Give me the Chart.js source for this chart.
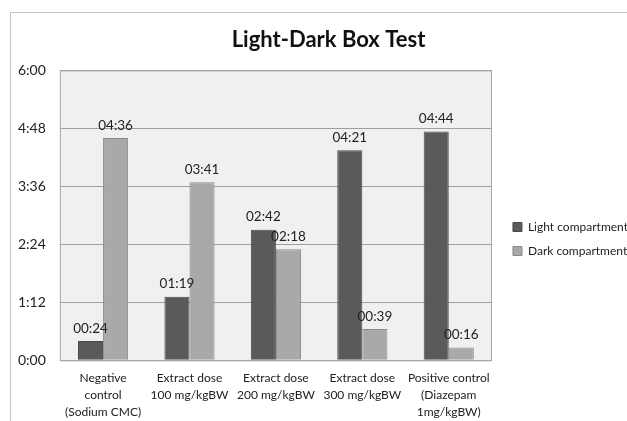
<!DOCTYPE html>
<html>
<head>
<meta charset="utf-8">
<script src="https://cdn.jsdelivr.net/npm/chart.js@4/dist/chart.umd.min.js"></script>
<style>
  html, body { margin: 0; padding: 0; background: #fff; overflow: hidden; }
  #frame { position: absolute; left: 10px; top: 12px; width: 700px; height: 500px; border: 1px solid #c6c6c6; }
  #wrap { position: absolute; left: 0; top: 0; width: 660px; height: 421px; }
</style>
</head>
<body>
<div id="frame"></div>
<div id="wrap"><canvas id="boxChart"></canvas></div>
<script>
const groups = [
  ['Negative', 'control', '(Sodium CMC)'],
  ['Extract dose', '100 mg/kgBW'],
  ['Extract dose', '200 mg/kgBW'],
  ['Extract dose', '300 mg/kgBW'],
  ['Positive control', '(Diazepam', '1mg/kgBW)']
]
// time in seconds
const lightSecs = [24, 79, 162, 261, 284]
const darkSecs = [276, 221, 138, 39, 16]

const pad2 = n => (n < 10 ? '0' : '') + n
const fontName = 'Lato, "Open Sans", sans-serif'

// grey plot area with a thin border
const plotBg = {
  id: 'plotBg',
  beforeDraw(chart) {
    const { ctx, chartArea: a } = chart
    ctx.save()
    ctx.fillStyle = '#f0f0f0'
    ctx.fillRect(a.left, a.top, a.right - a.left, a.bottom - a.top)
    ctx.restore()
  },
  afterDraw(chart) {
    const { ctx, chartArea: a } = chart
    ctx.save()
    ctx.strokeStyle = '#a8a8a8'
    ctx.lineWidth = 1
    ctx.strokeRect(a.left + 0.5, a.top + 0.5, a.right - a.left - 1, a.bottom - a.top)
    ctx.restore()
  }
}

// nudge legend and title like in the original
const boxNudge = {
  id: 'boxNudge',
  afterLayout(chart) {
    const lg = chart.legend
    lg.left += 9; lg.right += 9
    lg.top += 17; lg.bottom += 17
    const t = chart.titleBlock
    t.left += 12; t.right += 12
  }
}

// mm:ss label above each bar
const barLabels = {
  id: 'barLabels',
  afterDatasetsDraw(chart) {
    const ctx = chart.ctx
    ctx.save()
    ctx.font = '13.5px ' + fontName
    ctx.fillStyle = '#222'
    ctx.textAlign = 'center'
    ctx.textBaseline = 'bottom'
    chart.data.datasets.forEach((ds, i) => {
      chart.getDatasetMeta(i).data.forEach((bar, j) => {
        const v = ds.data[j]
        ctx.fillText(pad2(Math.floor(v / 60)) + ':' + pad2(v % 60), bar.x, bar.y - 6)
      })
    })
    ctx.restore()
  }
}

new Chart('boxChart', {
  type: 'bar',
  data: {
    labels: groups,
    datasets: [
      {
        label: 'Light compartment',
        data: lightSecs,
        backgroundColor: '#5a5a5a',
        borderColor: '#4a4a4a',
        borderWidth: 1,
        categoryPercentage: 0.58,
        barPercentage: 1
      },
      {
        label: 'Dark compartment',
        data: darkSecs,
        backgroundColor: '#a9a9a9',
        borderColor: '#8a8a8a',
        borderWidth: 1,
        categoryPercentage: 0.58,
        barPercentage: 1
      }
    ]
  },
  options: {
    responsive: true,
    maintainAspectRatio: false,
    animation: false,
    layout: { padding: { left: 4, top: 14, right: 31, bottom: -9 } },
    plugins: {
      title: {
        display: true,
        text: 'Light-Dark Box Test',
        color: '#111',
        font: { family: fontName, size: 22, weight: 'bold' },
        padding: { top: 13, bottom: 17 }
      },
      legend: {
        position: 'right',
        labels: {
          color: '#222',
          font: { family: fontName, size: 12 },
          boxWidth: 9,
          boxHeight: 9,
          padding: 12
        }
      },
      tooltip: { enabled: false }
    },
    scales: {
      x: {
        grid: { display: false, drawTicks: false },
        border: { display: false },
        ticks: {
          color: '#222',
          font: { family: fontName, size: 12, lineHeight: 1.38 },
          maxRotation: 0,
          autoSkip: false,
          padding: 10
        }
      },
      y: {
        min: 0,
        max: 360,
        border: { display: false },
        grid: { color: '#a0a0a0', drawTicks: false },
        ticks: {
          stepSize: 72,
          color: '#222',
          font: { family: fontName, size: 14 },
          padding: 14,
          callback: v => Math.floor(v / 60) + ':' + pad2(v % 60)
        }
      }
    }
  },
  plugins: [plotBg, boxNudge, barLabels]
})
</script>
</body>
</html>
